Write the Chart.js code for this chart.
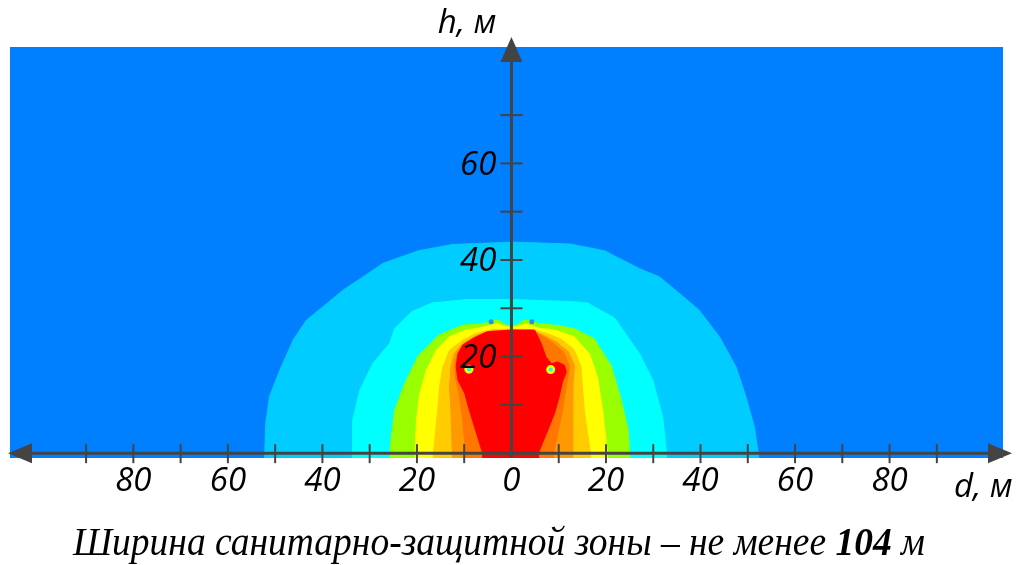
<!DOCTYPE html>
<html>
<head>
<meta charset="utf-8">
<script src="https://cdn.jsdelivr.net/npm/chart.js@4.4.1/dist/chart.umd.min.js"></script>
<style>
  body { margin: 0; background: #fff; width: 1024px; height: 565px; overflow: hidden; position: relative; }
  #chart { position: absolute; left: 0; top: 0; }
  #caption { position: absolute; left: 73px; top: 517px; white-space: nowrap;
    font-family: "Liberation Serif", "Times New Roman", serif; font-style: italic; font-size: 40px;
    line-height: 50px; transform-origin: 0 50%; }
</style>
</head>
<body>
<canvas id="chart" width="1024" height="565"></canvas>
<div id="caption">Ширина санитарно-защитной зоны – не менее <b>104</b> м</div>
<script>
// contour boundaries, [d, h] in metres (outer zone first)
const zoneLightBlue = [[-52.2,-1],[-52.2,0],[-52.0,6.0],[-51.2,11.7],[-49.0,17.2],[-46.2,23.4],[-43.4,27.5],[-39.9,30.3],[-35.7,33.7],[-31.4,36.5],[-27.2,39.3],[-19.7,41.9],[-12.5,43.2],[0.4,43.7],[12.5,43.3],[19.7,41.9],[27.1,38.2],[31.3,36.5],[35.5,33.1],[39.7,29.6],[44.0,24.1],[47.5,17.9],[49.6,11.7],[51.4,5.4],[52.2,0],[52.2,-1]];
const zoneCyan = [[-33.6,-1],[-33.6,0],[-33.6,6.8],[-32.1,13.0],[-29.3,18.6],[-25.8,22.7],[-24.7,25.8],[-21.1,29.3],[-16.8,31.1],[-9.6,31.8],[0.4,31.8],[12.5,31.4],[16.1,31.1],[21.8,28.0],[27.1,20.6],[29.9,15.1],[32.0,7.5],[32.8,0],[32.8,-1]];
const zoneGreen = [[-25.7,-1],[-25.7,0],[-25.4,3.4],[-24.7,9.0],[-22.5,14.6],[-19.7,20.2],[-15.4,24.4],[-10.4,26.5],[-6,26.8],[-3,27.6],[-1,26.5],[0,26.3],[1,26.5],[3,27.6],[6,26.8],[10,26.4],[13.2,25.8],[17.5,23.7],[21.1,18.1],[23.2,11.1],[24.7,4.8],[25.0,0],[25.0,-1]];
const zoneYellow = [[-20.4,-1],[-20.4,0],[-20.1,6.8],[-19.4,12.4],[-18.0,17.2],[-15.9,21.3],[-13.1,24.1],[-9.6,25.5],[-6.8,25.9],[-3,26.8],[-1,26.2],[0,26],[1,26.2],[3,26.8],[5.6,25.9],[9.1,25.5],[13.3,24.1],[16.5,20.6],[18.2,15.8],[19.3,8.9],[20.3,0],[20.3,-1]];
const zoneGold = [[-16.5,-1],[-16.5,0],[-15.6,8.9],[-15.2,13.7],[-14.5,17.9],[-13.1,21.3],[-10.3,23.4],[-7.5,24.8],[-4,25.6],[0,25.7],[4,25.6],[7.5,24.8],[10.5,23.6],[13.2,21.5],[14.7,18],[15.0,14],[15.4,8.9],[16.7,0],[16.7,-1]];
const zoneOrange = [[-12.5,-1],[-12.5,0],[-12.8,8.9],[-13.1,13.7],[-12.8,17.9],[-12.1,20.6],[-10.3,22.7],[-7.5,24.3],[-4.5,25.3],[0,25.5],[4.5,25.3],[7.0,24.3],[9.5,23.0],[12.0,21.0],[13.3,18.2],[13.0,14],[13.0,8.9],[12.9,0],[12.9,-1]];
const zoneDarkOrange = [[-9.7,-1],[-9.7,0],[-10.3,6.8],[-11.0,11.7],[-11.9,16],[-12.0,18.5],[-11.3,21],[-9.5,23],[-6.5,24.6],[-4,25.3],[4,25.3],[6.5,24.3],[8.5,23],[11.0,21],[12.3,18],[11.8,15],[10.8,8.9],[8.9,0],[8.9,-1]];
const zoneRed = [[-6.1,-1],[-6.1,0],[-7.8,5.4],[-8.9,8.9],[-9.9,12.4],[-11.3,15.1],[-11.7,17.9],[-11.3,20.6],[-10.3,22.4],[-8.2,23.7],[-5.3,25.1],[0,25.5],[4.9,25.5],[6.3,22.7],[7.3,19.9],[8.5,18.5],[9.8,18.9],[11.2,18.2],[11.6,16.8],[10.8,14.8],[10.1,11.7],[9.1,8.2],[7.7,4.8],[5.7,0],[5.7,-1]];
// small spots inside the contours
const hotSpots = [[-9.0,17.4],[8.3,17.3]];
const topSpots = [[-4.3,27.2],[4.3,27.2]];

// axes
const xTickMarks = [-90,-80,-70,-60,-50,-40,-30,-20,-10,10,20,30,40,50,60,70,80,90];
const xTickLabels = [-80,-60,-40,-20,0,20,40,60,80];
const yTickMarks = [10,20,30,40,50,60,70];
const yTickLabels = [20,40,60];

const zones = [
    {pts: zoneLightBlue, color: '#00ccff'},
    {pts: zoneCyan, color: '#00ffff'},
    {pts: zoneGreen, color: '#99ff00'},
    {pts: zoneYellow, color: '#ffff00'},
    {pts: zoneGold, color: '#ffcc00'},
    {pts: zoneOrange, color: '#ff9900'},
    {pts: zoneDarkOrange, color: '#ff7700'},
    {pts: zoneRed, color: '#ff0000'}
];

function toXY(list) {
    return list.map(function(p) { return {x: p[0], y: p[1]}; });
}

let datasets = zones.map(function(z, i) {
    return {
        data: toXY(z.pts),
        showLine: true,
        fill: 'shape',
        backgroundColor: z.color,
        borderColor: z.color,
        borderWidth: 1,
        pointRadius: 0,
        order: 20 - i
    };
});
datasets.push({data: toXY(hotSpots), showLine: false, pointRadius: 4.5, backgroundColor: '#ffff00', borderWidth: 0, order: 3});
datasets.push({data: toXY(hotSpots), showLine: false, pointRadius: 2, backgroundColor: '#00ffff', borderWidth: 0, order: 2});
datasets.push({data: toXY(topSpots), showLine: false, pointRadius: 2.5, backgroundColor: '#2a8cf0', borderWidth: 0, order: 1});

const areaBg = {
    id: 'areaBg',
    beforeDatasetsDraw(chart) {
        const a = chart.chartArea;
        chart.ctx.save();
        chart.ctx.fillStyle = '#0080ff';
        chart.ctx.fillRect(a.left, a.top, a.right - a.left, a.bottom - a.top);
        chart.ctx.restore();
    }
};

const arrowAxes = {
    id: 'arrowAxes',
    afterDatasetsDraw(chart) {
        const ctx = chart.ctx;
        const a = chart.chartArea;
        const xs = chart.scales.x, ys = chart.scales.y;
        const x0 = xs.getPixelForValue(0), y0 = ys.getPixelForValue(0);
        const axisColor = '#444444';
        ctx.save();
        ctx.strokeStyle = axisColor;
        ctx.fillStyle = axisColor;
        ctx.lineWidth = 3;
        // horizontal axis
        const xl = a.left - 2, xr = a.right + 9;
        ctx.beginPath();
        ctx.moveTo(xl + 10, y0); ctx.lineTo(xr - 10, y0); ctx.stroke();
        ctx.beginPath();
        ctx.moveTo(xl, y0); ctx.lineTo(xl + 24, y0 - 10); ctx.lineTo(xl + 24, y0 + 10); ctx.closePath(); ctx.fill();
        ctx.beginPath();
        ctx.moveTo(xr, y0); ctx.lineTo(xr - 24, y0 - 10); ctx.lineTo(xr - 24, y0 + 10); ctx.closePath(); ctx.fill();
        // vertical axis
        const yt = a.top - 10;
        ctx.beginPath();
        ctx.moveTo(x0, a.bottom); ctx.lineTo(x0, yt + 10); ctx.stroke();
        ctx.beginPath();
        ctx.moveTo(x0, yt); ctx.lineTo(x0 - 11, yt + 25); ctx.lineTo(x0 + 11, yt + 25); ctx.closePath(); ctx.fill();
        // tick marks
        ctx.lineWidth = 2;
        xTickMarks.forEach(function(v) {
            const px = xs.getPixelForValue(v);
            ctx.beginPath(); ctx.moveTo(px, y0 - 9); ctx.lineTo(px, y0 + 10); ctx.stroke();
        });
        yTickMarks.forEach(function(v) {
            const py = ys.getPixelForValue(v);
            ctx.beginPath(); ctx.moveTo(x0 - 11, py); ctx.lineTo(x0 + 11, py); ctx.stroke();
        });
        // labels
        ctx.fillStyle = '#000';
        ctx.font = 'italic 33px "Open Sans"';
        ctx.textAlign = 'center';
        ctx.textBaseline = 'middle';
        xTickLabels.forEach(function(v) {
            ctx.fillText(String(Math.abs(v)), xs.getPixelForValue(v), y0 + 28);
        });
        ctx.textAlign = 'right';
        yTickLabels.forEach(function(v) {
            ctx.fillText(String(v), x0 - 15, ys.getPixelForValue(v) + 2);
        });
        ctx.fillText('h, м', x0 - 15, a.top - 23);
        ctx.textAlign = 'left';
        ctx.fillText('d, м', a.right - 49, y0 + 34);
        ctx.restore();
    }
};

new Chart(document.getElementById('chart'), {
    type: 'scatter',
    data: {datasets: datasets},
    options: {
        responsive: false,
        animation: false,
        layout: {padding: {left: 10, right: 21, top: 47, bottom: 107}},
        scales: {
            x: {type: 'linear', display: false, min: -106.1, max: 104},
            y: {type: 'linear', display: false, min: -1, max: 84.1}
        },
        plugins: {legend: {display: false}, tooltip: {enabled: false}}
    },
    plugins: [areaBg, arrowAxes]
});

// fit caption to the reference width
const cap = document.getElementById('caption');
const w = cap.getBoundingClientRect().width;
cap.style.transform = 'scaleX(' + (852 / w) + ')';
</script>
</body>
</html>
